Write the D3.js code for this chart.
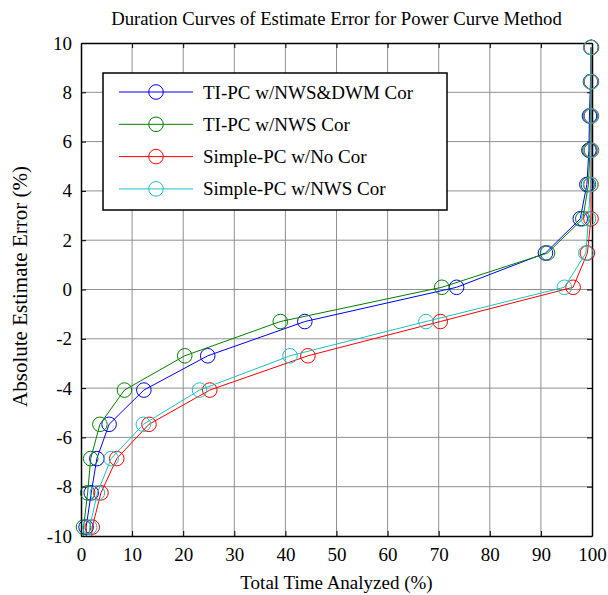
<!doctype html>
<html>
<head>
<meta charset="utf-8">
<script src="https://d3js.org/d3.v7.min.js"></script>
<style>
  body { margin: 0; background: #fff; }
  text { font-family: "Liberation Serif", "Times New Roman", serif; fill: #000; }
</style>
</head>
<body>
<svg id="chart" width="608" height="595"></svg>
<script>
// error levels (%) of each duration-curve point, bottom one lies below the axis
var errorLevels = [-11.03, -9.64, -8.25, -6.86, -5.47, -4.08, -2.69, -1.30, 0.09, 1.48, 2.87, 4.26, 5.65, 7.04, 8.43, 9.82];

// time analyzed (%) for each level, one list per method
var tiNwsDwm   = [1.2, 1.0, 2.0, 3.1, 5.5, 12.3, 24.8, 43.8, 73.5, 90.9, 97.7, 99.0, 99.4, 99.5, 99.7, 99.8];
var tiNws      = [0.6, 0.5, 1.3, 1.9, 3.7, 8.5, 20.3, 39.0, 70.6, 91.3, 98.2, 99.3, 99.6, 99.7, 99.8, 99.8];
var simpleNo   = [1.8, 2.2, 3.9, 7.0, 13.3, 25.2, 44.4, 70.3, 96.3, 99.1, 99.8, 99.8, 99.9, 99.9, 99.9, 99.9];
var simpleNws  = [1.5, 1.7, 3.2, 5.9, 12.2, 23.2, 40.9, 67.5, 94.6, 98.8, 99.3, 99.7, 99.8, 99.8, 99.8, 99.8];

var seriesNames = ["TI-PC w/NWS&DWM Cor", "TI-PC w/NWS Cor", "Simple-PC w/No Cor", "Simple-PC w/NWS Cor"];
var seriesColors = ["#0000ff", "#008000", "#ff0000", "#1fbfbf"];
var seriesValues = [tiNwsDwm, tiNws, simpleNo, simpleNws];

var xTicks = [0, 10, 20, 30, 40, 50, 60, 70, 80, 90, 100];
var yTicks = [-10, -8, -6, -4, -2, 0, 2, 4, 6, 8, 10];

var svg = d3.select("#chart");
var pL = 81, pR = 592, pT = 43, pB = 536;

var x = d3.scaleLinear().domain([0, 100]).range([pL, pR]);
var y = d3.scaleLinear().domain([-10, 10]).range([pB, pT]);

svg.append("defs").append("clipPath").attr("id", "plotClip")
  .append("rect").attr("x", pL).attr("y", pT)
  .attr("width", pR - pL).attr("height", pB - pT);

// grid
svg.append("g").selectAll("line").data(xTicks.slice(1, -1)).enter()
  .append("line")
  .attr("x1", d => x(d)).attr("x2", d => x(d))
  .attr("y1", pT).attr("y2", pB)
  .attr("stroke", "#8f8f8f").attr("stroke-width", 1);
svg.append("g").selectAll("line").data(yTicks.slice(1, -1)).enter()
  .append("line")
  .attr("y1", d => y(d)).attr("y2", d => y(d))
  .attr("x1", pL).attr("x2", pR)
  .attr("stroke", "#8f8f8f").attr("stroke-width", 1);

// axes, ticks pointing in
var plain = d => String(d);
svg.append("g").attr("transform", "translate(0," + pB + ")")
  .call(d3.axisBottom(x).tickValues(xTicks).tickFormat(plain).tickSizeInner(-5).tickSizeOuter(0).tickPadding(12))
  .call(g => g.selectAll("text").style("font-size", "19px").style("font-family", "Liberation Serif"));
svg.append("g").attr("transform", "translate(" + pL + ",0)")
  .call(d3.axisLeft(y).tickValues(yTicks).tickFormat(plain).tickSizeInner(-5).tickSizeOuter(0).tickPadding(9))
  .call(g => g.selectAll("text").style("font-size", "19px").style("font-family", "Liberation Serif"));
svg.append("g").attr("transform", "translate(0," + pT + ")")
  .call(d3.axisTop(x).tickValues(xTicks).tickSizeInner(-5).tickSizeOuter(0).tickFormat(""));
svg.append("g").attr("transform", "translate(" + pR + ",0)")
  .call(d3.axisRight(y).tickValues(yTicks).tickSizeInner(-5).tickSizeOuter(0).tickFormat(""));
svg.selectAll(".domain").attr("stroke", "#000").attr("stroke-width", 1.5);

// curves
var line = d3.line().x(d => x(d[0])).y(d => y(d[1]));
seriesValues.forEach(function (vals, i) {
  var pts = vals.map((v, k) => [v, errorLevels[k]]);
  svg.append("path").datum(pts)
    .attr("clip-path", "url(#plotClip)")
    .attr("d", line)
    .attr("fill", "none")
    .attr("stroke", seriesColors[i])
    .attr("stroke-width", 1);
  svg.append("g").selectAll("circle")
    .data(pts.filter(p => p[1] >= -10 && p[1] <= 10))
    .enter().append("circle")
    .attr("cx", d => x(d[0])).attr("cy", d => y(d[1]))
    .attr("r", 7.3)
    .attr("fill", "none")
    .attr("stroke", seriesColors[i])
    .attr("stroke-width", 1);
});

// legend
var lg = svg.append("g");
lg.append("rect").attr("x", 103).attr("y", 73).attr("width", 344).attr("height", 137)
  .attr("fill", "#fff").attr("stroke", "#000").attr("stroke-width", 1.5);
seriesNames.forEach(function (name, i) {
  var ly = 92 + i * 32.3;
  lg.append("line").attr("x1", 119).attr("x2", 193).attr("y1", ly).attr("y2", ly)
    .attr("stroke", seriesColors[i]).attr("stroke-width", 1);
  lg.append("circle").attr("cx", 156).attr("cy", ly).attr("r", 7.3)
    .attr("fill", "none").attr("stroke", seriesColors[i]).attr("stroke-width", 1);
  lg.append("text").attr("x", 203).attr("y", ly + 6.5)
    .style("font-size", "19px").text(name);
});

// titles
svg.append("text").attr("x", (pL + pR) / 2).attr("y", 25)
  .attr("text-anchor", "middle").style("font-size", "18.7px")
  .text("Duration Curves of Estimate Error for Power Curve Method");
svg.append("text").attr("x", (pL + pR) / 2).attr("y", 589)
  .attr("text-anchor", "middle").style("font-size", "19px")
  .text("Total Time Analyzed (%)");
svg.append("text")
  .attr("transform", "translate(27," + ((pT + pB) / 2 - 3) + ") rotate(-90)")
  .attr("text-anchor", "middle").style("font-size", "21px")
  .text("Absolute Estimate Error (%)");
</script>
</body>
</html>
